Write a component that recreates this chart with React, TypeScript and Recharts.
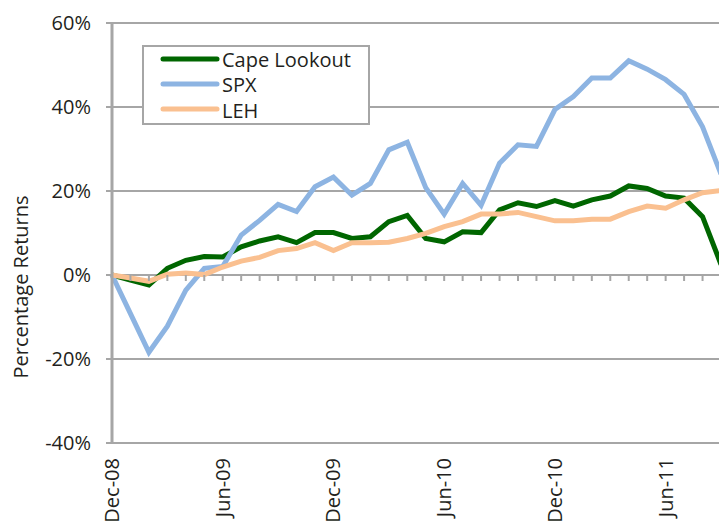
import React from "react";
import { LineChart, Line, XAxis, YAxis, CartesianGrid, Legend } from "recharts";

const months = [
  "Dec-08", "Jan-09", "Feb-09", "Mar-09", "Apr-09", "May-09", "Jun-09",
  "Jul-09", "Aug-09", "Sep-09", "Oct-09", "Nov-09", "Dec-09",
  "Jan-10", "Feb-10", "Mar-10", "Apr-10", "May-10", "Jun-10",
  "Jul-10", "Aug-10", "Sep-10", "Oct-10", "Nov-10", "Dec-10",
  "Jan-11", "Feb-11", "Mar-11", "Apr-11", "May-11", "Jun-11",
  "Jul-11", "Aug-11", "Sep-11",
];

const capeLookout = [
  0, -1.2, -2.4, 1.6, 3.5, 4.4, 4.3, 6.7, 8.1, 9.1, 7.7, 10.1, 10.1,
  8.7, 9.1, 12.7, 14.2, 8.7, 7.9, 10.3, 10.1, 15.5, 17.2, 16.3, 17.7,
  16.4, 17.9, 18.8, 21.2, 20.6, 18.8, 18.3, 13.9, 2.5,
];

const spx = [
  0, -9.2, -18.4, -12.2, -3.6, 1.6, 2, 9.5, 13, 16.8, 15.1, 21, 23.3,
  19, 21.8, 29.8, 31.6, 20.8, 14.5, 21.8, 16.6, 26.6, 31, 30.6, 39.4,
  42.5, 46.9, 46.9, 51, 49, 46.5, 43, 35.3, 24,
];

const leh = [
  0, -0.7, -1.5, 0.2, 0.5, 0.1, 1.9, 3.3, 4.2, 5.8, 6.3, 7.7, 5.8,
  7.7, 7.7, 7.8, 8.7, 9.9, 11.5, 12.7, 14.5, 14.5, 14.9, 13.9, 12.9,
  12.9, 13.3, 13.3, 15.1, 16.4, 15.9, 17.9, 19.6, 20.1,
];

const yTicks = [-40, -20, 0, 20, 40, 60];

const series = [
  { key: "cape", name: "Cape Lookout", color: "#006600" },
  { key: "spx", name: "SPX", color: "#8DB4E2" },
  { key: "leh", name: "LEH", color: "#FAC090" },
];

const data = months.map((m, i) => ({
  month: m,
  cape: capeLookout[i],
  spx: spx[i],
  leh: leh[i],
}));

const FONT = "'Open Sans', sans-serif";
const TEXT = "#231f20";
const GRID = "#a6a6a6";

const CHART_W = 740;
const CHART_H = 523;
const TOP = 23;
const X_AXIS_H = 80;
const PLOT_H = CHART_H - TOP - X_AXIS_H;
const Y_MIN = -40;
const Y_MAX = 60;

// month ticks sit on the 0% line, labels every 6 months at the bottom
const XTick = (props: any) => {
  const { x, y, payload, index } = props;
  const zeroY = y - (PLOT_H * (0 - Y_MIN)) / (Y_MAX - Y_MIN);
  const ly = y + 15;
  return (
    <g>
      {index > 0 && (
        <line x1={x} x2={x} y1={zeroY} y2={zeroY + 6} stroke={GRID} strokeWidth={2} />
      )}
      {index % 6 === 0 && (
        <text
          x={x}
          y={ly}
          dy="0.35em"
          transform={`rotate(-90 ${x} ${ly})`}
          textAnchor="end"
          fontSize={20}
          fontFamily={FONT}
          fill={TEXT}
        >
          {payload.value}
        </text>
      )}
    </g>
  );
};

const YLabel = () => (
  <text
    x={28}
    y={287}
    transform="rotate(-90 28 287)"
    textAnchor="middle"
    fontSize={20}
    fontFamily={FONT}
    fill={TEXT}
  >
    Percentage Returns
  </text>
);

const LegendBox = () => (
  <div
    style={{
      boxSizing: "border-box",
      width: 228,
      height: 80,
      border: `2px solid ${GRID}`,
      background: "#fff",
      fontFamily: FONT,
      fontSize: 20,
      color: TEXT,
    }}
  >
    {series.map((s) => (
      <div key={s.key} style={{ display: "flex", alignItems: "center", height: 25.3 }}>
        <svg width={78} height={10} style={{ flex: "none" }}>
          <line x1={19} x2={73} y1={4} y2={4} stroke={s.color} strokeWidth={5} strokeLinecap="round" />
        </svg>
        <span style={{ lineHeight: "25px" }}>{s.name}</span>
      </div>
    ))}
  </div>
);

export default function App() {
  return (
    <div
      style={{
        position: "absolute",
        left: 0,
        top: 0,
        width: 719,
        height: 523,
        overflow: "hidden",
        background: "#fff",
      }}
    >
      <LineChart
        width={CHART_W}
        height={CHART_H}
        data={data}
        margin={{ top: TOP, right: 19, bottom: 0, left: 0 }}
      >
        <CartesianGrid vertical={false} stroke={GRID} strokeWidth={2} />
        <XAxis
          dataKey="month"
          interval={0}
          height={X_AXIS_H}
          axisLine={false}
          tickLine={false}
          tickSize={0}
          tickMargin={0}
          tick={<XTick />}
        />
        <YAxis
          width={112}
          domain={[Y_MIN, Y_MAX]}
          ticks={yTicks}
          tickFormatter={(v: number) => `${v}%`}
          axisLine={{ stroke: GRID, strokeWidth: 3 }}
          tickLine={{ stroke: GRID, strokeWidth: 2 }}
          tickSize={6}
          tickMargin={15}
          tick={{ fontSize: 20, fontFamily: FONT, fill: TEXT }}
          label={<YLabel />}
        />
        <Legend
          layout="vertical"
          align="center"
          verticalAlign="middle"
          wrapperStyle={{ left: 142, top: 45, width: 228 }}
          content={<LegendBox />}
        />
        {series.map((s) => (
          <Line
            key={s.key}
            type="linear"
            dataKey={s.key}
            name={s.name}
            stroke={s.color}
            strokeWidth={5}
            dot={false}
            activeDot={false}
            isAnimationActive={false}
          />
        ))}
      </LineChart>
    </div>
  );
}
